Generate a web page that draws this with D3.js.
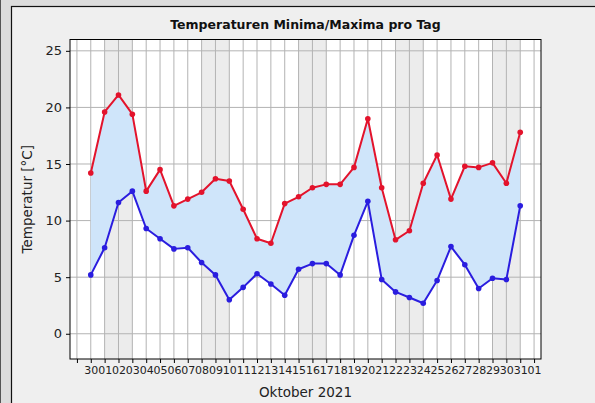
<!DOCTYPE html>
<html>
<head>
<meta charset="utf-8">
<script src="https://cdn.jsdelivr.net/npm/d3@7"></script>
<style>
  html, body { margin: 0; padding: 0; background: #dcdcdc; }
  svg { display: block; font-family: "DejaVu Sans", sans-serif; }
</style>
</head>
<body>
<div id="chart"></div>
<script>
// Tageswerte (Index 0 = erster Punkt, beschriftet "30")
const tickLabels = ['30','01','02','03','04','05','06','07','08','09','10','11','12','13','14','15',
                    '16','17','18','19','20','21','22','23','24','25','26','27','28','29','30','31','01'];
const maxima = [14.2, 19.6, 21.1, 19.4, 12.6, 14.5, 11.3, 11.9, 12.5, 13.7, 13.5, 11.0, 8.4, 8.0, 11.5, 12.1,
                12.9, 13.2, 13.2, 14.7, 19.0, 12.9, 8.3, 9.1, 13.3, 15.8, 11.9, 14.8, 14.7, 15.1, 13.3, 17.8];
const minima = [5.2, 7.6, 11.6, 12.6, 9.3, 8.4, 7.5, 7.6, 6.3, 5.2, 3.0, 4.1, 5.3, 4.4, 3.4, 5.7,
                6.2, 6.2, 5.2, 8.7, 11.7, 4.8, 3.7, 3.2, 2.7, 4.7, 7.7, 6.1, 4.0, 4.9, 4.8, 11.3];
const weekendStarts = [1, 8, 15, 22, 29];   // Samstag bis Montag
const yTicks = [0, 5, 10, 15, 20, 25];

const W = 595, H = 403;
const plot = { left: 70, right: 541, top: 39.5, bottom: 359 };

const svg = d3.select('#chart').append('svg')
    .attr('width', W).attr('height', H);

// Figure frame
svg.append('rect').attr('x', 11.5).attr('y', 6.5).attr('width', W).attr('height', H)
    .attr('fill', '#efefef').attr('stroke', '#111').attr('stroke-width', 1.2);
svg.append('line').attr('x1', 0.5).attr('x2', 0.5).attr('y1', 0).attr('y2', H)
    .attr('stroke', '#555');

const x = d3.scaleLinear().domain([-1.5, 32.5]).range([plot.left, plot.right]);
const y = d3.scaleLinear().domain([-2.23, 26]).range([plot.bottom, plot.top]);

const g = svg.append('g');

// Plot background
g.append('rect')
    .attr('x', plot.left).attr('y', plot.top)
    .attr('width', plot.right - plot.left).attr('height', plot.bottom - plot.top)
    .attr('fill', '#fff');

// Weekend bands
g.append('g').selectAll('rect')
    .data(weekendStarts)
    .join('rect')
    .attr('x', d => x(d))
    .attr('width', d => x(d + 2) - x(d))
    .attr('y', plot.top)
    .attr('height', plot.bottom - plot.top)
    .attr('fill', '#ececec');

// Grid
const xTickIdx = d3.range(-1, tickLabels.length);
g.append('g').selectAll('line')
    .data(xTickIdx)
    .join('line')
    .attr('x1', d => x(d)).attr('x2', d => x(d))
    .attr('y1', plot.top).attr('y2', plot.bottom)
    .attr('stroke', '#b3b3b3').attr('stroke-width', 1);
g.append('g').selectAll('line')
    .data(yTicks)
    .join('line')
    .attr('x1', plot.left).attr('x2', plot.right)
    .attr('y1', d => y(d)).attr('y2', d => y(d))
    .attr('stroke', '#b3b3b3').attr('stroke-width', 1);

// Fill between minima and maxima
const area = d3.area()
    .x((d, i) => x(i))
    .y0((d, i) => y(minima[i]))
    .y1(d => y(d));
g.append('path')
    .datum(maxima)
    .attr('d', area)
    .attr('fill', '#cfe5fa');

// Lines + markers
const series = [
    { values: maxima, color: '#e3132c' },
    { values: minima, color: '#2a1ddf' }
];
const line = d3.line().x((d, i) => x(i)).y(d => y(d));
series.forEach(s => {
    g.append('path')
        .datum(s.values)
        .attr('d', line)
        .attr('fill', 'none')
        .attr('stroke', s.color)
        .attr('stroke-width', 2)
        .attr('stroke-linejoin', 'round');
    g.append('g').selectAll('circle')
        .data(s.values)
        .join('circle')
        .attr('cx', (d, i) => x(i))
        .attr('cy', d => y(d))
        .attr('r', 2.8)
        .attr('fill', s.color);
});

// Spines
g.append('rect')
    .attr('x', plot.left).attr('y', plot.top)
    .attr('width', plot.right - plot.left).attr('height', plot.bottom - plot.top)
    .attr('fill', 'none').attr('stroke', '#000').attr('stroke-width', 1);

// Axes
const xAxis = d3.axisBottom(x)
    .tickValues(xTickIdx)
    .tickSize(4)
    .tickPadding(3)
    .tickFormat(d => d >= 0 ? tickLabels[d] : '');
const gx = svg.append('g')
    .attr('transform', `translate(0,${plot.bottom})`)
    .call(xAxis);
gx.select('.domain').remove();
gx.selectAll('text').attr('font-size', 11).attr('fill', '#222')
    .attr('font-family', '"DejaVu Sans", sans-serif');

const yAxis = d3.axisLeft(y)
    .tickValues(yTicks)
    .tickSize(4)
    .tickPadding(4);
const gy = svg.append('g')
    .attr('transform', `translate(${plot.left},0)`)
    .call(yAxis);
gy.select('.domain').remove();
gy.selectAll('text').attr('font-size', 13).attr('fill', '#222')
    .attr('font-family', '"DejaVu Sans", sans-serif');

// Titles
svg.append('text')
    .attr('x', (plot.left + plot.right) / 2).attr('y', 29)
    .attr('text-anchor', 'middle')
    .attr('font-size', 12.5).attr('font-weight', 'bold')
    .attr('fill', '#111')
    .text('Temperaturen Minima/Maxima pro Tag');

svg.append('text')
    .attr('x', (plot.left + plot.right) / 2).attr('y', 397)
    .attr('text-anchor', 'middle')
    .attr('font-size', 13.5).attr('fill', '#222')
    .text('Oktober 2021');

svg.append('text')
    .attr('transform', `translate(32,${(plot.top + plot.bottom) / 2}) rotate(-90)`)
    .attr('text-anchor', 'middle')
    .attr('font-size', 13.5).attr('fill', '#222')
    .text('Temperatur [°C]');
</script>
</body>
</html>
